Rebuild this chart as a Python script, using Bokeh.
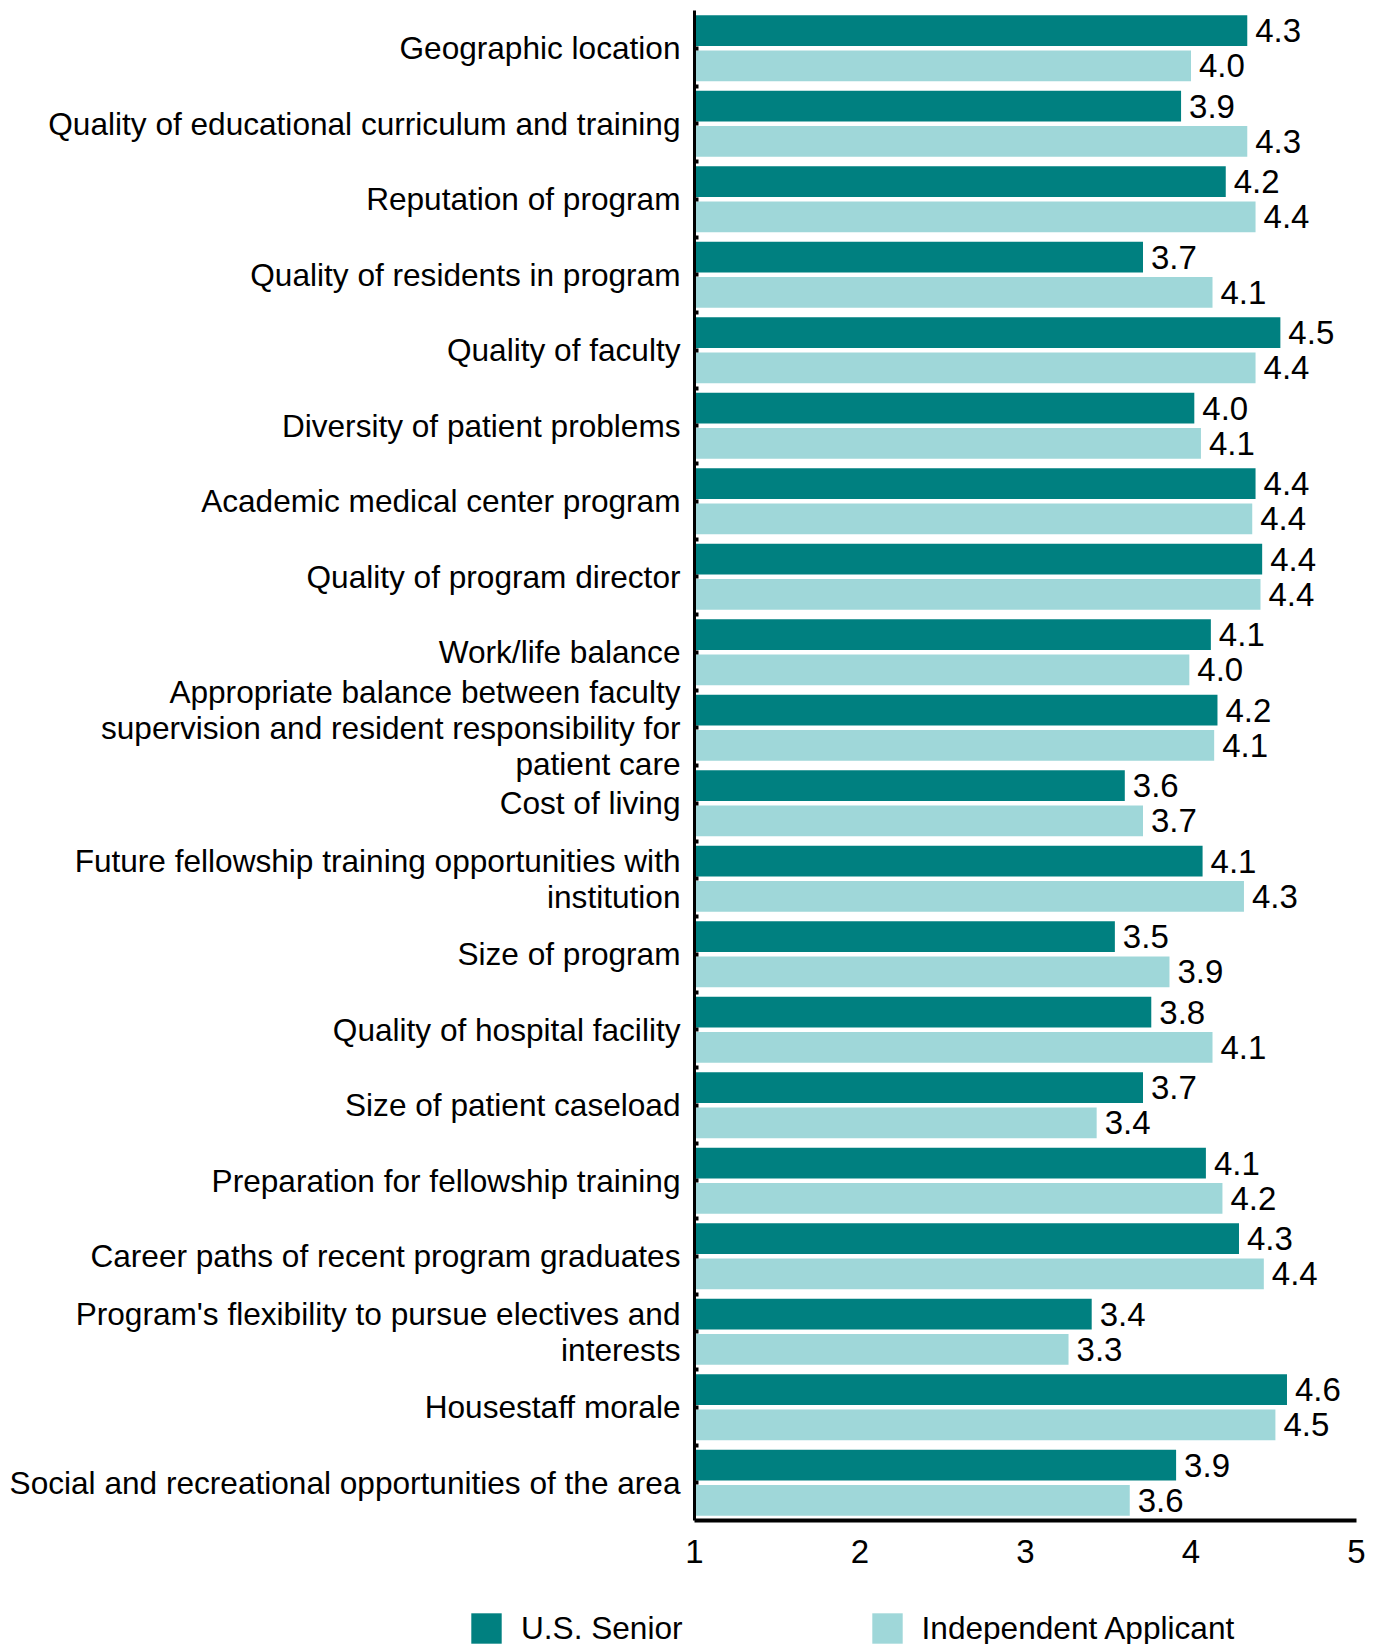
from bokeh.plotting import figure
from bokeh.models import ColumnDataSource, Legend, LegendItem, Range1d, FixedTicker
from bokeh.core.properties import value
from bokeh.embed import file_html
from bokeh.resources import INLINE

categories = [
    "Geographic location",
    "Quality of educational curriculum and training",
    "Reputation of program",
    "Quality of residents in program",
    "Quality of faculty",
    "Diversity of patient problems",
    "Academic medical center program",
    "Quality of program director",
    "Work/life balance",
    "Appropriate balance between faculty\nsupervision and resident responsibility for\npatient care",
    "Cost of living",
    "Future fellowship training opportunities with\ninstitution",
    "Size of program",
    "Quality of hospital facility",
    "Size of patient caseload",
    "Preparation for fellowship training",
    "Career paths of recent program graduates",
    "Program's flexibility to pursue electives and\ninterests",
    "Housestaff morale",
    "Social and recreational opportunities of the area",
]
us_senior = [4.34, 3.94, 4.21, 3.71, 4.54, 4.02, 4.39, 4.43, 4.12, 4.16,
             3.60, 4.07, 3.54, 3.76, 3.71, 4.09, 4.29, 3.40, 4.58, 3.91]
independent = [4.00, 4.34, 4.39, 4.13, 4.39, 4.06, 4.37, 4.42, 3.99, 4.14,
               3.71, 4.32, 3.87, 4.13, 3.43, 4.19, 4.44, 3.26, 4.51, 3.63]
x_ticks = [1, 2, 3, 4, 5]
series_names = ["U.S. Senior", "Independent Applicant"]

DARK = "#008080"
LIGHT = "#9FD7D9"
FONT = "Liberation Sans"
FS = "31.6px"
FS_VAL = "33px"

# layout (pixels)
W, H = 1374, 1644
PX_X1, PX_X5 = 694, 1356
PX_TOP, PX_BOTTOM = 10, 1520
OFF = 0.232
BAR_H = 0.407

n = len(categories)
ppu_x = (PX_X5 - PX_X1) / (x_ticks[-1] - x_ticks[0])
ppu_y = (PX_BOTTOM - PX_TOP) / n
x_start = x_ticks[0] - PX_X1 / ppu_x
x_end = x_ticks[-1] + (W - PX_X5) / ppu_x
y_start = -(H - PX_BOTTOM) / ppu_y
y_end = n + PX_TOP / ppu_y

ypos = [n - i - 0.5 for i in range(n)]
boundaries = list(range(1, n))

src = ColumnDataSource(dict(
    y_us=[y + OFF for y in ypos],
    y_ind=[y - OFF for y in ypos],
    us=us_senior,
    ind=independent,
    us_lbl=[f"{v:.1f}" for v in us_senior],
    ind_lbl=[f"{v:.1f}" for v in independent],
))

p = figure(width=W, height=H,
           x_range=Range1d(x_start, x_end), y_range=Range1d(y_start, y_end),
           output_backend="svg", toolbar_location=None,
           min_border_left=0, min_border_right=0, min_border_top=0, min_border_bottom=0)

r1 = p.hbar(y="y_us", left=x_ticks[0], right="us", height=BAR_H, source=src,
            fill_color=DARK, line_color=None)
r2 = p.hbar(y="y_ind", left=x_ticks[0], right="ind", height=BAR_H, source=src,
            fill_color=LIGHT, line_color=None)

p.text(x="us", y="y_us", text="us_lbl", source=src,
       x_offset=8, text_baseline="middle", text_align="left",
       text_font=value(FONT), text_font_size=FS_VAL, text_color="black")
p.text(x="ind", y="y_ind", text="ind_lbl", source=src,
       x_offset=8, text_baseline="middle", text_align="left",
       text_font=value(FONT), text_font_size=FS_VAL, text_color="black")

p.xgrid.grid_line_color = None
p.ygrid.grid_line_color = None
p.outline_line_color = None
p.background_fill_color = "white"
p.border_fill_color = "white"

xa = p.xaxis[0]
ya = p.yaxis[0]
for ax in (xa, ya):
    ax.axis_line_color = "black"
    ax.major_tick_out = 0
    ax.major_tick_in = 0
    ax.minor_tick_out = 0
    ax.minor_tick_in = 0
    ax.major_label_text_font = FONT
    ax.major_label_text_font_size = FS
    ax.major_label_text_color = "black"
    ax.major_label_text_line_height = 1.0

xa.fixed_location = 0
xa.bounds = (x_ticks[0], x_ticks[-1])
xa.axis_line_width = 4
xa.ticker = FixedTicker(ticks=x_ticks)
xa.major_label_standoff = 19
xa.major_label_text_font_size = FS_VAL

ya.fixed_location = x_ticks[0]
ya.bounds = (0, n)
ya.axis_line_width = 3
ya.ticker = FixedTicker(ticks=ypos, minor_ticks=boundaries)
ya.major_tick_in = 4
ya.minor_tick_in = 4
ya.major_tick_line_width = 4
ya.minor_tick_line_width = 4
ya.major_tick_line_color = "black"
ya.minor_tick_line_color = "black"
ya.major_label_overrides = {y: c for y, c in zip(ypos, categories)}
ya.major_label_standoff = 14
ya.major_label_text_align = "right"

legend = Legend(items=[LegendItem(label=series_names[0], renderers=[r1]),
                       LegendItem(label=series_names[1], renderers=[r2])],
                orientation="horizontal", location=(467, -3),
                spacing=185, glyph_width=38, glyph_height=38, label_standoff=16,
                label_height=38, padding=0, margin=0,
                border_line_color=None, background_fill_alpha=0,
                label_text_font=FONT, label_text_font_size=FS, label_text_color="black")
p.add_layout(legend, "center")

open("out.html", "w").write(file_html(p, INLINE))
